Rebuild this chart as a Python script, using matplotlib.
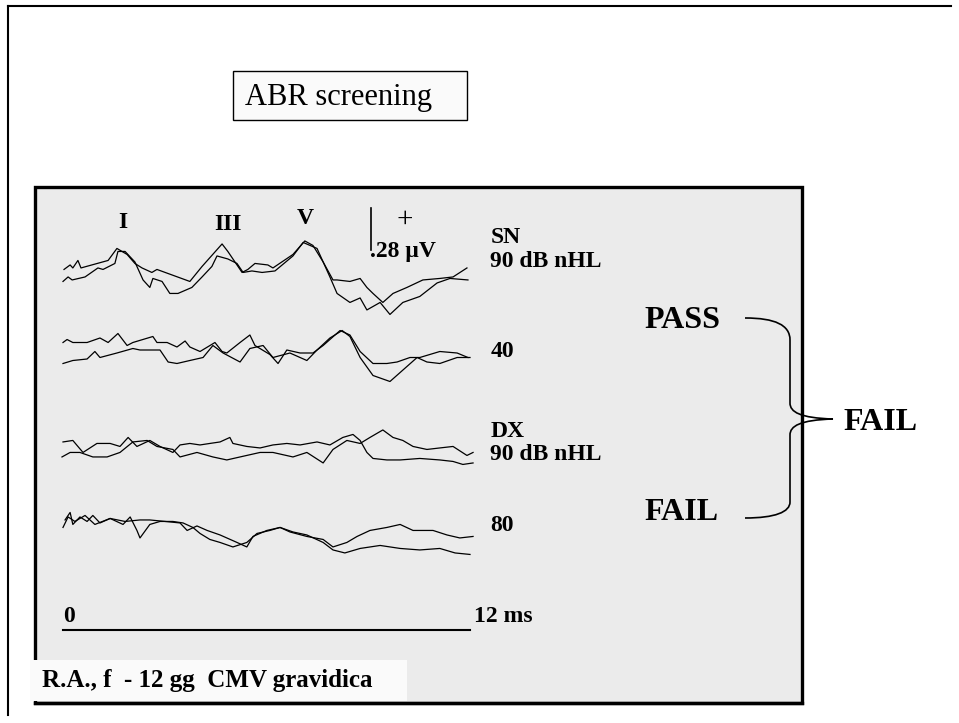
import matplotlib
matplotlib.use("Agg")
import matplotlib.pyplot as plt
from matplotlib.patches import Rectangle, PathPatch
from matplotlib.path import Path

plt.rcParams['font.family'] = ['Liberation Serif', 'DejaVu Serif']

# ---------------- data (time in ms, amplitude in microvolts) ----------------
sn90_a_t = [0.03, 0.21, 0.29, 0.44, 0.53, 1.33, 1.59, 1.89, 2.12, 2.33, 2.62, 2.77, 3.74, 4.10, 4.69, 4.86,
            5.28, 5.45, 5.66, 6.04, 6.19, 6.78, 7.13, 7.37, 7.67, 7.96, 8.08, 8.46, 8.76, 8.96, 9.14, 9.43,
            9.73, 10.14, 10.61, 11.11, 11.50, 11.91]
sn90_a_v = [-0.01, 0.02, 0.00, 0.05, 0.00, 0.05, 0.13, 0.09, 0.03, 0.00, -0.03, -0.01, -0.09, 0.01, 0.16, 0.11,
            -0.03, -0.01, 0.03, 0.02, 0.00, 0.09, 0.18, 0.15, 0.04, -0.08, -0.08, -0.09, -0.07, -0.13, -0.17, -0.23,
            -0.17, -0.13, -0.08, -0.07, -0.06, 0.00]
sn90_b_t = [0.00, 0.15, 0.27, 0.65, 1.03, 1.18, 1.53, 1.62, 1.83, 2.12, 2.36, 2.56, 2.65, 2.92, 3.15, 3.39,
            3.80, 4.10, 4.39, 4.54, 4.86, 5.13, 5.31, 5.57, 5.87, 6.25, 6.78, 7.08, 7.49, 7.87, 8.08, 8.46,
            8.76, 8.96, 9.35, 9.64, 10.02, 10.52, 11.03, 11.41, 11.94]
sn90_b_v = [-0.09, -0.06, -0.08, -0.06, 0.00, -0.01, 0.03, 0.11, 0.11, 0.04, -0.08, -0.13, -0.07, -0.09, -0.17, -0.17,
            -0.13, -0.06, 0.01, 0.08, 0.06, 0.03, -0.03, -0.02, -0.03, -0.02, 0.08, 0.17, 0.13, -0.06, -0.17, -0.23,
            -0.20, -0.28, -0.23, -0.31, -0.23, -0.19, -0.10, -0.07, -0.08]

sn40_a_t = [0.00, 0.12, 0.29, 0.71, 1.09, 1.33, 1.62, 1.89, 2.06, 2.65, 2.77, 3.07, 3.36, 3.60, 3.74, 4.04,
            4.48, 4.69, 4.83, 5.22, 5.51, 5.66, 6.10, 6.34, 6.60, 6.99, 7.37, 7.67, 8.17, 8.46, 8.76, 9.14,
            9.55, 9.85, 10.23, 10.52, 11.11, 11.62, 11.94]
sn40_a_v = [0.05, 0.07, 0.05, 0.05, 0.08, 0.05, 0.11, 0.03, 0.05, 0.09, 0.05, 0.05, 0.02, 0.06, 0.02, -0.01,
            0.05, -0.01, -0.02, 0.05, 0.10, 0.03, -0.03, -0.09, 0.00, -0.02, -0.02, 0.03, 0.13, 0.10, -0.01, -0.09,
            -0.09, -0.08, -0.05, -0.05, -0.01, -0.02, -0.05]
sn40_b_t = [0.00, 0.29, 0.71, 0.94, 1.09, 1.59, 2.06, 2.27, 2.86, 3.10, 3.36, 3.74, 4.13, 4.42, 4.72, 5.22,
            5.51, 5.90, 6.19, 6.69, 7.19, 7.49, 7.87, 8.23, 8.46, 8.76, 9.14, 9.64, 9.94, 10.44, 10.73, 11.11,
            11.62, 12.00]
sn40_b_v = [-0.09, -0.07, -0.06, -0.01, -0.05, -0.02, 0.01, 0.00, 0.00, -0.08, -0.09, -0.07, -0.05, 0.03, -0.02, -0.08,
            0.01, 0.03, -0.05, -0.02, -0.07, 0.00, 0.08, 0.13, 0.09, -0.05, -0.17, -0.21, -0.15, -0.05, -0.08, -0.09,
            -0.05, -0.05]

dx90_a_t = [0.00, 0.29, 0.59, 1.00, 1.39, 1.68, 1.92, 2.18, 2.56, 2.86, 3.24, 3.45, 3.74, 4.04, 4.33, 4.63,
            4.92, 5.01, 5.42, 5.81, 6.19, 6.60, 6.99, 7.49, 7.87, 8.25, 8.55, 8.76, 8.96, 9.14, 9.55, 9.94,
            10.52, 11.11, 11.50, 11.79, 12.09]
dx90_a_v = [0.04, 0.05, -0.03, 0.03, 0.03, 0.01, 0.07, 0.01, 0.05, 0.01, -0.03, 0.02, 0.03, 0.02, 0.03, 0.04,
            0.07, 0.03, 0.01, 0.00, 0.02, 0.03, 0.02, 0.04, 0.02, 0.07, 0.09, 0.05, -0.03, -0.07, -0.08, -0.08,
            -0.07, -0.08, -0.09, -0.11, -0.10]
dx90_b_t = [-0.03, 0.21, 0.50, 0.88, 1.30, 1.68, 2.06, 2.48, 2.77, 3.24, 3.45, 3.95, 4.42, 4.83, 5.22, 5.81,
            6.19, 6.78, 7.19, 7.67, 7.96, 8.37, 8.76, 9.05, 9.43, 9.73, 10.02, 10.32, 10.73, 11.11, 11.50, 11.91,
            12.09]
dx90_b_v = [-0.06, -0.03, -0.03, -0.06, -0.06, -0.03, 0.04, 0.05, 0.01, -0.01, -0.06, -0.03, -0.06, -0.08, -0.06, -0.03,
            -0.03, -0.06, -0.03, -0.10, -0.01, 0.05, 0.03, 0.07, 0.12, 0.07, 0.05, 0.01, -0.01, 0.00, 0.01, -0.05,
            -0.03]

dx80_a_t = [0.06, 0.21, 0.29, 0.50, 0.71, 0.88, 1.09, 1.39, 1.77, 1.98, 2.18, 2.27, 2.56, 2.86, 3.24, 3.54,
            3.83, 4.04, 4.33, 4.63, 5.01, 5.42, 5.72, 6.10, 6.40, 6.78, 7.19, 7.67, 7.96, 8.31, 8.76, 9.35,
            9.94, 10.52, 11.11, 11.56, 12.00]
dx80_a_v = [0.00, 0.05, -0.03, 0.02, -0.01, 0.03, -0.02, 0.01, -0.03, 0.02, -0.07, -0.12, -0.03, -0.01, -0.01, -0.02,
            -0.05, -0.09, -0.13, -0.15, -0.18, -0.15, -0.09, -0.07, -0.05, -0.08, -0.10, -0.15, -0.20, -0.22, -0.19, -0.17,
            -0.19, -0.20, -0.19, -0.22, -0.23]
dx80_b_t = [0.00, 0.15, 0.35, 0.65, 0.94, 1.39, 1.83, 2.27, 2.56, 3.01, 3.45, 3.66, 3.95, 4.25, 4.63, 5.13,
            5.42, 5.60, 6.01, 6.40, 6.69, 7.19, 7.67, 7.96, 8.37, 8.67, 9.05, 9.55, 9.94, 10.32, 10.91, 11.32,
            11.70, 12.09]
dx80_b_v = [-0.05, 0.02, -0.01, 0.03, -0.03, 0.01, -0.01, 0.00, 0.00, -0.01, -0.02, -0.07, -0.04, -0.07, -0.10, -0.15,
            -0.18, -0.11, -0.07, -0.05, -0.08, -0.11, -0.13, -0.18, -0.15, -0.11, -0.07, -0.05, -0.03, -0.07, -0.07, -0.10,
            -0.12, -0.11]

peak_labels = ["I", "III", "V"]
peak_times = [1.75, 4.85, 7.15]
trace_labels = ["SN\n90 dB nHL", "40", "DX\n90 dB nHL", "80"]
scale_uv = 0.28
time_span = [0, 12]

# ---------------- layout ----------------
W, H = 959, 723
fig = plt.figure(figsize=(W / 100, H / 100), dpi=100)
bg = fig.add_axes([0, 0, 1, 1])
bg.set_xlim(0, W)
bg.set_ylim(H, 0)
bg.axis('off')

# outer frame (top + left)
bg.plot([8, 951], [6, 6], color='black', lw=1.5)
bg.plot([8, 8], [6, 715], color='black', lw=1.5)

# title box
bg.add_patch(Rectangle((233, 71), 234, 49, facecolor='#fafafa', edgecolor='black', lw=1.0))
bg.text(245, 97, "ABR screening", fontsize=22, va='center', ha='left')

# gray panel
bg.add_patch(Rectangle((35, 187), 767, 516, facecolor='#ebebeb', edgecolor='black', lw=2.4, zorder=1))

# trace axes (ms x microvolts)
PX_TOP, PX_BOT = 200, 560
ax = fig.add_axes([63 / W, (H - PX_BOT) / H, 407 / W, (PX_BOT - PX_TOP) / H])
ax.set_xlim(time_span[0], time_span[1])
ax.set_ylim(-(PX_BOT - PX_TOP) / 150.0, 0)
ax.axis('off')
ax.patch.set_alpha(0)

offsets = [-0.453, -1.0, -1.653, -2.133]
traces = [((sn90_a_t, sn90_a_v), (sn90_b_t, sn90_b_v)),
          ((sn40_a_t, sn40_a_v), (sn40_b_t, sn40_b_v)),
          ((dx90_a_t, dx90_a_v), (dx90_b_t, dx90_b_v)),
          ((dx80_a_t, dx80_a_v), (dx80_b_t, dx80_b_v))]
for off, pair in zip(offsets, traces):
    for t, v in pair:
        ax.plot(t, [off + x for x in v], color='black', lw=0.9, clip_on=False)

# peak labels
for lab, tp, dy in zip(peak_labels, peak_times, [0.0, -0.01, 0.03]):
    ax.text(tp, -0.15 + dy, lab, fontsize=17, fontweight='bold', ha='center', va='center')

# amplitude scale bar
sb_t = 9.08
ax.plot([sb_t, sb_t], [-0.053, -0.053 - scale_uv], color='black', lw=1.2, clip_on=False)
ax.text(sb_t + 1.0, -0.135, "+", fontsize=21, ha='center', va='center')
ax.text(sb_t - 0.02, -0.34, ".28 \u00b5V", fontsize=17, fontweight='bold', ha='left', va='center')

# trace labels
label_y = [-0.33, -1.01, -1.62, -2.17]
for lab, ly in zip(trace_labels, label_y):
    ax.text(12.6, ly, lab, fontsize=17, fontweight='bold', ha='left', va='center', linespacing=1.15)

# time scale bar
ty = -2.867
ax.plot(time_span, [ty, ty], color='black', lw=1.5, clip_on=False)
ax.text(time_span[0], ty + 0.02, "0", fontsize=17, fontweight='bold', ha='left', va='bottom')
ax.text(time_span[1] + 0.12, ty + 0.09, "12 ms", fontsize=17, fontweight='bold', ha='left', va='center')

# PASS / FAIL
bg.text(682, 320, "PASS", fontsize=23, fontweight='bold', ha='center', va='center')
bg.text(682, 512, "FAIL", fontsize=23, fontweight='bold', ha='center', va='center')
bg.text(881, 422, "FAIL", fontsize=23, fontweight='bold', ha='center', va='center')

# brace
verts = [(745, 318), (775, 318), (790, 325), (790, 340),
         (790, 403),
         (790, 412), (800, 418), (833, 419),
         (800, 420), (790, 426), (790, 435),
         (790, 502),
         (790, 512), (775, 518), (745, 518)]
codes = [Path.MOVETO, Path.CURVE4, Path.CURVE4, Path.CURVE4,
         Path.LINETO,
         Path.CURVE4, Path.CURVE4, Path.CURVE4,
         Path.CURVE4, Path.CURVE4, Path.CURVE4,
         Path.LINETO,
         Path.CURVE4, Path.CURVE4, Path.CURVE4]
bg.add_patch(PathPatch(Path(verts, codes), facecolor='none', edgecolor='black', lw=1.2, zorder=3))

# patient label
bg.add_patch(Rectangle((30, 660), 377, 41, facecolor='#fafafa', edgecolor='none', zorder=4))
bg.plot([35, 802], [703, 703], color='black', lw=2.4, zorder=5)
bg.text(42, 681, "R.A., f  - 12 gg  CMV gravidica", fontsize=18, fontweight='bold',
        ha='left', va='center', zorder=6)

fig.savefig("out.png", dpi=100)
